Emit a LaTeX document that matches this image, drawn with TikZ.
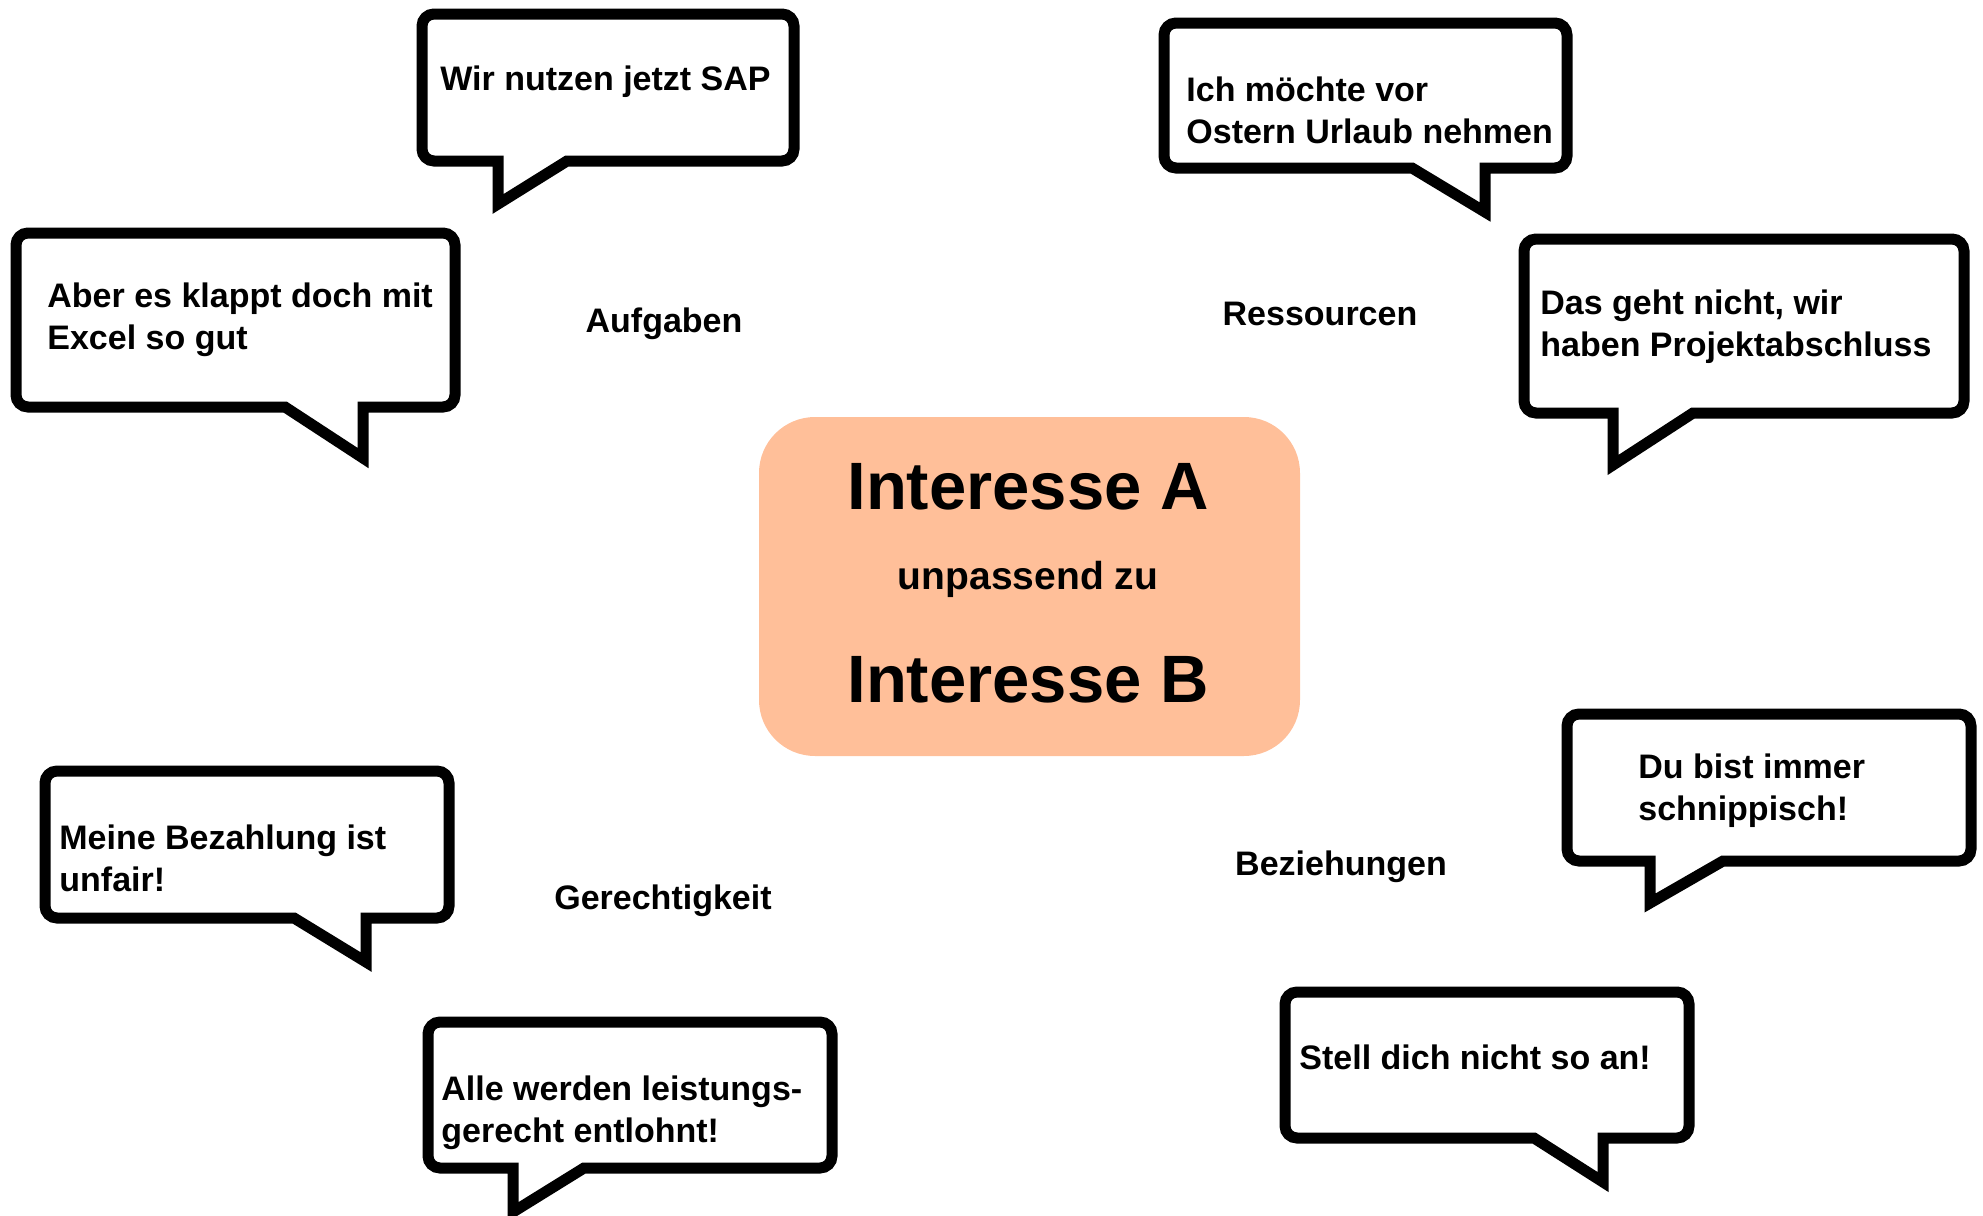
\documentclass[tikz,border=0pt]{standalone}
\usepackage{fontspec}
\setmainfont{Liberation Sans}
\definecolor{peach}{HTML}{FFBF99}
\newcommand{\speechbub}[8]{% L,T,R,B, xa, xb, tipx, tipy
  \draw[bubble] (#5,#4+2) -- (#7,#8+6) -- (#6,#4+2) -- (#6+20,#4+2) [rounded corners=6pt] -- (#3+2,#4+2) -- (#3+2,#2-2) -- (#1-2,#2-2) -- (#1-2,#4+2) -- (#5-20,#4+2) [sharp corners] -- cycle;}
\begin{document}
\begin{tikzpicture}[x=0.5pt,y=-0.5pt,
  bubble/.style={draw=black, line width=5.5pt, fill=white, line join=miter, miter limit=10},
  btext/.style={font=\fontsize{17}{21}\selectfont\bfseries, align=left, anchor=west, inner sep=0pt},
  cattext/.style={font=\fontsize{17}{21}\selectfont\bfseries, inner sep=0pt},
  bigtext/.style={font=\fontsize{33.5}{40}\selectfont\bfseries, inner sep=0pt},
  midtext/.style={font=\fontsize{19.5}{23}\selectfont\bfseries, inner sep=0pt},
  corebox/.style={fill=peach, rounded corners=28pt, minimum width=270.5pt, minimum height=169.5pt, inner sep=0pt}]
\useasboundingbox (0,0) rectangle (1983,1216);

% central box
\node[corebox] (core) at (1029.5,586.5) {};
\node[bigtext] (ia) at (1028,487) {Interesse A};
\node[midtext] (uz) at (1028,579) {unpassend zu};
\node[bigtext] (ib) at (1028,680) {Interesse B};

% bubbles
\speechbub{424}{16}{792}{159}{498}{567}{498}{198}
\node[btext] (t1) at (440,82) {Wir nutzen jetzt SAP};

\speechbub{18}{235}{453}{405}{285}{363}{363}{452}
\node[btext] (t2) at (47,319.5) {Aber es klappt doch mit\\Excel so gut};

\speechbub{1166}{25}{1565}{166}{1412}{1485}{1485}{206}
\node[btext] (t3) at (1186,110) {Ich möchte vor\\Ostern Urlaub nehmen};

\speechbub{1526}{241}{1962}{411}{1613}{1693}{1613}{459}
\node[btext] (t4) at (1540,326.5) {Das geht nicht, wir\\haben Projektabschluss};

\speechbub{1569}{716}{1969}{859}{1650}{1723}{1650}{897}
\node[btext] (t5) at (1638,791) {Du bist immer\\schnippisch!};

\speechbub{1287}{994}{1687}{1136}{1534}{1603}{1603}{1176}
\node[btext] (t6) at (1299,1057) {Stell dich nicht so an!};

\speechbub{47}{773}{447}{916}{294}{366}{366}{956}
\node[btext] (t7) at (59,858) {Meine Bezahlung ist\\unfair!};

\speechbub{430}{1024}{830}{1166}{513}{584}{513}{1206}
\node[btext] (t8) at (441,1112.5) {Alle werden leistungs-\\gerecht entlohnt!};

% category labels
\node[cattext] (c1) at (664,324) {Aufgaben};
\node[cattext] (c2) at (1320,314) {Ressourcen};
\node[cattext] (c3) at (663,901) {Gerechtigkeit};
\node[cattext] (c4) at (1341,867) {Beziehungen};
\end{tikzpicture}
\end{document}
